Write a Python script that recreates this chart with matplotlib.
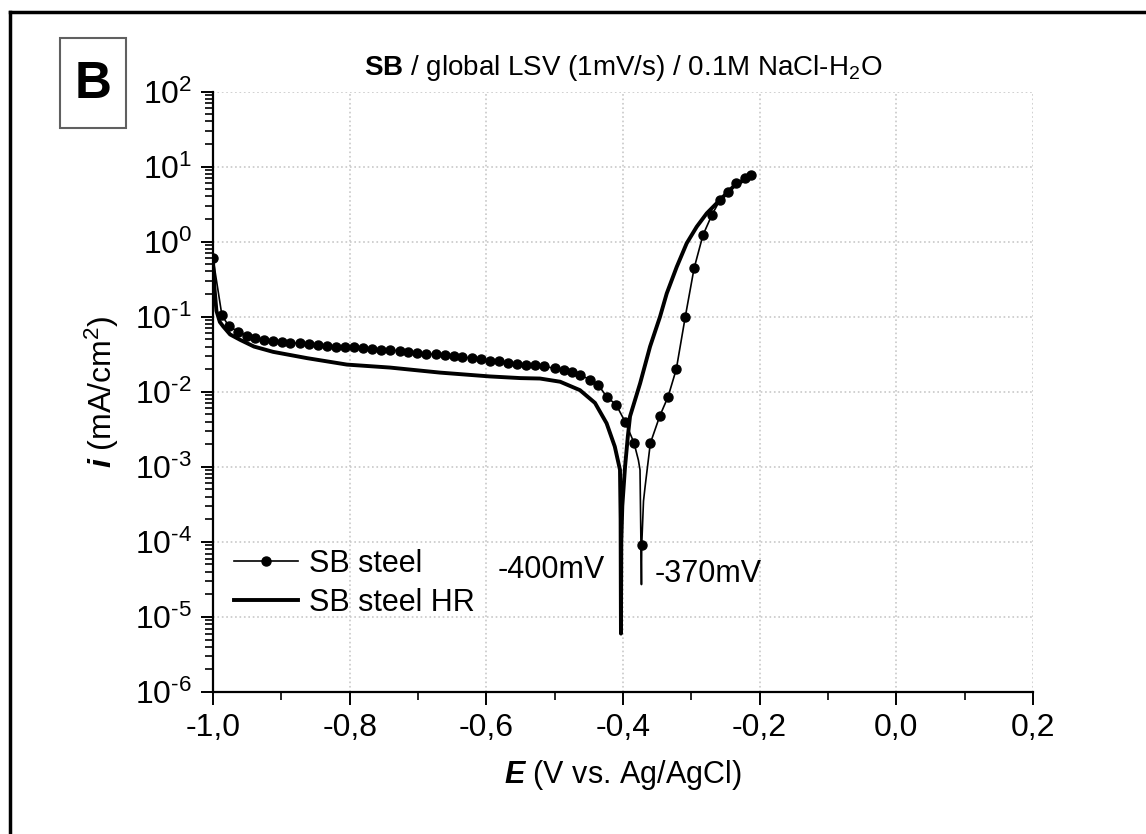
import math
import matplotlib
matplotlib.use("Agg")
import matplotlib.pyplot as plt
from matplotlib.lines import Line2D
from matplotlib.patches import Rectangle
from matplotlib.ticker import FuncFormatter, MultipleLocator, LogLocator, NullFormatter

plt.rcParams['font.family'] = ['Liberation Sans', 'DejaVu Sans']
plt.rcParams['mathtext.fontset'] = 'custom'
plt.rcParams['mathtext.rm'] = 'Liberation Sans'
plt.rcParams['mathtext.it'] = 'Liberation Sans:italic:bold'
plt.rcParams['mathtext.bf'] = 'Liberation Sans:bold'
plt.rcParams['axes.unicode_minus'] = False

# SB steel (thin line with dots); mark = 1 where a dot is drawn
sb_E = [-1.000, -0.987, -0.977, -0.963, -0.950, -0.938, -0.925, -0.912, -0.899, -0.887,
        -0.873, -0.860, -0.847, -0.833, -0.820, -0.807, -0.794, -0.780, -0.767, -0.754,
        -0.741, -0.727, -0.714, -0.701, -0.688, -0.674, -0.661, -0.648, -0.635, -0.621,
        -0.608, -0.595, -0.582, -0.568, -0.555, -0.542, -0.529, -0.515, -0.500, -0.487,
        -0.475, -0.463, -0.448, -0.436, -0.424, -0.410, -0.397, -0.384, -0.3775, -0.3751,
        -0.3730, -0.3726, -0.3700, -0.3677, -0.360, -0.346, -0.334, -0.322, -0.309, -0.296,
        -0.283, -0.270, -0.258, -0.246, -0.234, -0.222, -0.212]
sb_i = [0.60, 0.105, 0.075, 0.063, 0.056, 0.052, 0.049, 0.047, 0.046, 0.045,
        0.044, 0.043, 0.042, 0.041, 0.040, 0.0395, 0.039, 0.038, 0.037, 0.0365,
        0.036, 0.035, 0.034, 0.033, 0.032, 0.0315, 0.031, 0.030, 0.029, 0.028,
        0.027, 0.026, 0.0253, 0.0245, 0.0237, 0.023, 0.0225, 0.0218, 0.0205, 0.0195,
        0.0185, 0.0167, 0.0145, 0.0123, 0.0086, 0.0067, 0.0040, 0.0021, 0.00123, 0.00091,
        2.7e-5, 9e-5, 3.5e-4, 5.4e-4, 0.00206, 0.0048, 0.0086, 0.020, 0.098, 0.44,
        1.22, 2.26, 3.59, 4.6, 6.0, 7.0, 7.7]
sb_mark = [1] * 48 + [0, 0, 0, 1, 0, 0] + [1] * 13

# SB steel HR (thick line)
hr_E = [-1.000, -0.998, -0.995, -0.990, -0.985, -0.975, -0.960, -0.940, -0.912, -0.862,
        -0.804, -0.741, -0.668, -0.595, -0.550, -0.5215, -0.492, -0.463, -0.441, -0.424,
        -0.412, -0.4044, -0.4035, -0.4030, -0.4025, -0.4010, -0.397, -0.393, -0.3897, -0.375,
        -0.3604, -0.3458, -0.336, -0.3214, -0.3068, -0.2921, -0.2775, -0.258, -0.2385, -0.2116]
hr_i = [0.55, 0.25, 0.12, 0.085, 0.074, 0.058, 0.049, 0.040, 0.034, 0.028,
        0.023, 0.021, 0.018, 0.016, 0.0152, 0.0150, 0.0136, 0.0105, 0.0071, 0.0038,
        0.00186, 0.00091, 2e-4, 6e-6, 1e-4, 3e-4, 0.0010, 0.0025, 0.0047, 0.0129,
        0.040, 0.10, 0.204, 0.46, 0.95, 1.58, 2.38, 3.6, 5.4, 7.7]

x_ticks = [-1.0, -0.8, -0.6, -0.4, -0.2, 0.0, 0.2]

W, H = 1146, 834
fig = plt.figure(figsize=(W / 100, H / 100), dpi=100)
ax = fig.add_axes([213 / W, 1 - 692 / H, 820 / W, 600.5 / H])

ax.plot(sb_E, sb_i, color='black', lw=1.2, marker='o', ms=6.5,
        markevery=[k for k, m in enumerate(sb_mark) if m], label='SB steel')
ax.plot(hr_E, hr_i, color='black', lw=2.8, label='SB steel HR')

ax.set_yscale('log')
ax.set_xlim(-1.0, 0.2)
ax.set_ylim(1e-6, 1e2)
ax.set_xticks(x_ticks)
ax.xaxis.set_minor_locator(MultipleLocator(0.1))
ax.xaxis.set_major_formatter(FuncFormatter(lambda v, p: f'{round(v, 1) + 0.0:.1f}'.replace('.', ',')))
ax.yaxis.set_major_locator(LogLocator(base=10, numticks=20))
ax.yaxis.set_minor_locator(LogLocator(base=10, subs=range(2, 10), numticks=20))
ax.yaxis.set_minor_formatter(NullFormatter())
ax.yaxis.set_major_formatter(FuncFormatter(lambda v, p: r'$10^{\text{%d}}$' % round(math.log10(v))))

for s in ['top', 'right']:
    ax.spines[s].set_visible(False)
for s in ['left', 'bottom']:
    ax.spines[s].set_linewidth(1.6)
ax.tick_params(which='major', direction='out', length=9, width=1.4, labelsize=23, pad=6)
ax.tick_params(which='minor', direction='out', length=5.5, width=1.2)
ax.grid(True, which='major', color='#c8c8c8', linestyle=':', linewidth=1.2)
ax.set_axisbelow(True)

ax.set_xlabel(r'$\mathit{E}$ (V vs. Ag/AgCl)', fontsize=22, labelpad=11)
ax.set_ylabel(r'$\mathit{i}$ (mA/cm$^2$)', fontsize=23, labelpad=10)
ax.set_title(r'$\mathbf{SB}$ / global LSV (1mV/s) / 0.1M NaCl-H$_2$O', fontsize=20, pad=12)

ax.text(-0.4263, 4.2e-5, '-400mV', fontsize=22, ha='right', va='center')
ax.text(-0.353, 3.7e-5, '-370mV', fontsize=22, ha='left', va='center')

ax.legend(loc='upper left', bbox_to_anchor=(234 / W, 1 - 549 / H), bbox_transform=fig.transFigure,
          frameon=False, fontsize=22, handlelength=2.1, handletextpad=0.35, labelspacing=0.3,
          borderpad=0, borderaxespad=0, numpoints=1)

# outer frame and panel letter
fig.add_artist(Line2D([10 / W, 10 / W], [0, 1 - 11.5 / H], transform=fig.transFigure, color='black', lw=2.5))
fig.add_artist(Line2D([10 / W, 1], [1 - 11.5 / H, 1 - 11.5 / H], transform=fig.transFigure, color='black', lw=2.5))
fig.add_artist(Rectangle((60 / W, 1 - 128 / H), 66 / W, 90 / H, transform=fig.transFigure,
                         fill=False, edgecolor='#606060', lw=1.5))
fig.text(93 / W, 1 - 84 / H, 'B', fontsize=37, fontweight='bold', ha='center', va='center')

fig.savefig('out.png', dpi=100)
